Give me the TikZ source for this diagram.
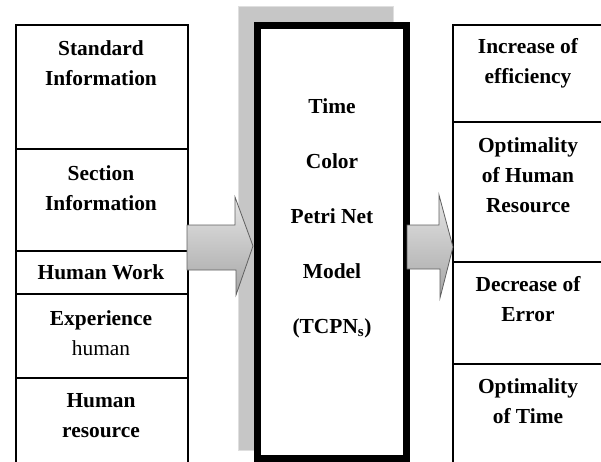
\documentclass[tikz,border=0pt]{standalone}
\usepackage{fontspec}
\setmainfont{Liberation Serif}
\begin{document}
\begin{tikzpicture}[x=1pt,y=-1pt,
  cell/.style={draw=black, line width=1.7pt, rectangle, inner sep=0pt, anchor=north west},
  txt/.style={align=center, font=\fontsize{21.4}{30}\selectfont\bfseries, inner sep=0pt},
  bigarrow/.style={top color=gray!20, bottom color=gray!70, draw=gray!75!black, line width=0.8pt, line join=miter}]
\useasboundingbox (0,0) rectangle (601,461);
% left table
\node[cell, minimum width=172pt, minimum height=124pt] (l1) at (15,24) {};
\node[cell, minimum width=172pt, minimum height=102pt] (l2) at (15,148) {};
\node[cell, minimum width=172pt, minimum height=43pt] (l3) at (15,250) {};
\node[cell, minimum width=172pt, minimum height=84pt] (l4) at (15,293) {};
\node[cell, minimum width=172pt, minimum height=100pt] (l5) at (15,377) {};
\node[txt] (t1) at (101,63) {Standard\\Information};
\node[txt] (t2) at (101,188) {Section\\Information};
\node[txt] (t3) at (101,272) {Human Work};
\node[txt] (t4) at (101,333) {Experience\\{\mdseries human}};
\node[txt] (t5) at (101,416) {Human\\resource};
% right table
\node[cell, minimum width=155pt, minimum height=97pt] (r1) at (452,24) {};
\node[cell, minimum width=155pt, minimum height=140pt] (r2) at (452,121) {};
\node[cell, minimum width=155pt, minimum height=102pt] (r3) at (452,261) {};
\node[cell, minimum width=155pt, minimum height=110pt] (r4) at (452,363) {};
\node[txt] (u1) at (528,63) {Increase of\\efficiency};
\node[txt] (u2) at (528,175) {Optimality\\of Human\\Resource};
\node[txt] (u3) at (528,299) {Decrease of\\Error};
\node[txt] (u4) at (528,401) {Optimality\\of Time};
% center
\node[draw=gray!25, fill=gray!45, line width=1.2pt, rectangle, inner sep=0pt, anchor=north west,
      minimum width=155pt, minimum height=444pt] (shadow) at (238,6) {};
\node[draw=black, fill=white, line width=7pt, rectangle, inner sep=0pt,
      minimum width=149pt, minimum height=433pt] (model) at (332,241.5) {};
\node[txt, font=\fontsize{21.4}{55}\selectfont\bfseries] (mt) at (332,218)
  {Time\\Color\\Petri Net\\Model\\(TCPN\textsubscript{s})};
% arrows
\path[bigarrow] (187,225) -- (235,225) -- (235,197) -- (253,246) -- (236,295) -- (236,270) -- (187,270) -- cycle;
\path[bigarrow] (407,225) -- (439,225) -- (439,195) -- (453,247) -- (440,298) -- (440,269) -- (407,269) -- cycle;
\end{tikzpicture}
\end{document}
